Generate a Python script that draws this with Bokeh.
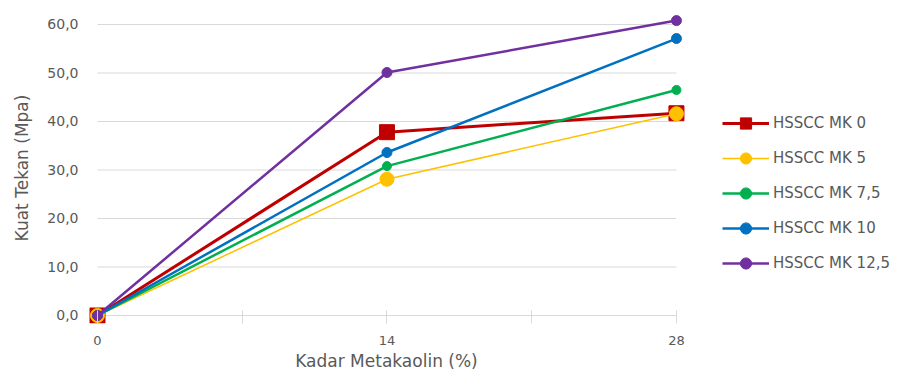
from bokeh.plotting import figure
from bokeh.models import Range1d, FixedTicker, Legend, LegendItem
from bokeh.embed import file_html
from bokeh.resources import INLINE

# --- data -------------------------------------------------------------
x_vals = [0, 14, 28]
series_names = ["HSSCC MK 0", "HSSCC MK 5", "HSSCC MK 7,5", "HSSCC MK 10", "HSSCC MK 12,5"]
mk0 = [0.0, 37.8, 41.7]
mk5 = [0.0, 28.1, 41.6]
mk75 = [0.0, 30.8, 46.5]
mk10 = [0.0, 33.6, 57.1]
mk125 = [0.0, 50.1, 60.8]
y_ticks = [0, 10, 20, 30, 40, 50, 60]
y_tick_labels = ["0,0", "10,0", "20,0", "30,0", "40,0", "50,0", "60,0"]
x_ticks = [0, 14, 28]
x_minor_ticks = [7, 21]

# --- styling ------------------------------------------------------------
FONT = "DejaVu Sans"
TEXT = "#595959"
GRID = "#D9D9D9"
styles = [
    dict(color="#C00000", width=3.0, marker="square", size=15),
    dict(color="#FFC000", width=1.5, marker="circle", size=14),
    dict(color="#00B050", width=2.5, marker="circle", size=9),
    dict(color="#0070C0", width=2.5, marker="circle", size=10),
    dict(color="#7030A0", width=2.5, marker="circle", size=10),
]
values = [mk0, mk5, mk75, mk10, mk125]

p = figure(
    frame_width=608, frame_height=311,
    output_backend="svg", toolbar_location=None,
    x_range=Range1d(-0.725, 28.68),
    y_range=Range1d(-1.65, 62.47),
    min_border_left=82, min_border_right=211,
    min_border_top=12, min_border_bottom=55,
)
p.outline_line_color = None
p.xgrid.visible = False
p.ygrid.visible = False

# horizontal gridlines spanning the category extent
p.segment(x0=[x_vals[0]] * len(y_ticks), x1=[x_vals[-1]] * len(y_ticks),
          y0=y_ticks, y1=y_ticks, line_color=GRID, line_width=1.2)

# axes
xa = p.xaxis[0]
xa.ticker = FixedTicker(ticks=x_ticks, minor_ticks=x_minor_ticks)
xa.axis_line_color = None
xa.major_tick_in = 13
xa.major_tick_out = 0
xa.minor_tick_in = 13
xa.minor_tick_out = 0
xa.major_tick_line_color = GRID
xa.minor_tick_line_color = GRID
xa.major_label_text_font = FONT
xa.major_label_text_font_size = "13px"
xa.major_label_text_color = TEXT
xa.major_label_standoff = 12
xa.axis_label = "Kadar Metakaolin (%)"
xa.axis_label_text_font = FONT
xa.axis_label_text_font_size = "17px"
xa.axis_label_text_font_style = "normal"
xa.axis_label_text_color = TEXT
xa.axis_label_standoff = 3

ya = p.yaxis[0]
ya.ticker = FixedTicker(ticks=y_ticks)
ya.major_label_overrides = {t: lab for t, lab in zip(y_ticks, y_tick_labels)}
ya.axis_line_color = None
ya.major_tick_line_color = None
ya.minor_tick_line_color = None
ya.major_tick_in = 0
ya.major_tick_out = 0
ya.major_label_text_font = FONT
ya.major_label_text_font_size = "14px"
ya.major_label_text_color = TEXT
ya.major_label_standoff = 4
ya.axis_label = "Kuat Tekan (Mpa)"
ya.axis_label_text_font = FONT
ya.axis_label_text_font_size = "17px"
ya.axis_label_text_font_style = "normal"
ya.axis_label_text_color = TEXT
ya.axis_label_standoff = 12

# series
items = []
for name, vals, st in zip(series_names, values, styles):
    ln = p.line(x_vals, vals, line_color=st["color"], line_width=st["width"])
    mk = p.scatter(x_vals, vals, marker=st["marker"], size=st["size"],
                   fill_color=st["color"], line_color=st["color"], line_width=1)
    items.append(LegendItem(label=name, renderers=[ln, mk]))

legend = Legend(
    items=items,
    location=(32, 46),
    glyph_width=47, glyph_height=28,
    label_height=20, label_standoff=4, spacing=7,
    padding=0, margin=0,
    border_line_color=None, background_fill_alpha=0,
    label_text_font=FONT, label_text_font_size="15px",
    label_text_color=TEXT,
)
p.add_layout(legend, "right")

open("out.html", "w").write(file_html(p, INLINE))
